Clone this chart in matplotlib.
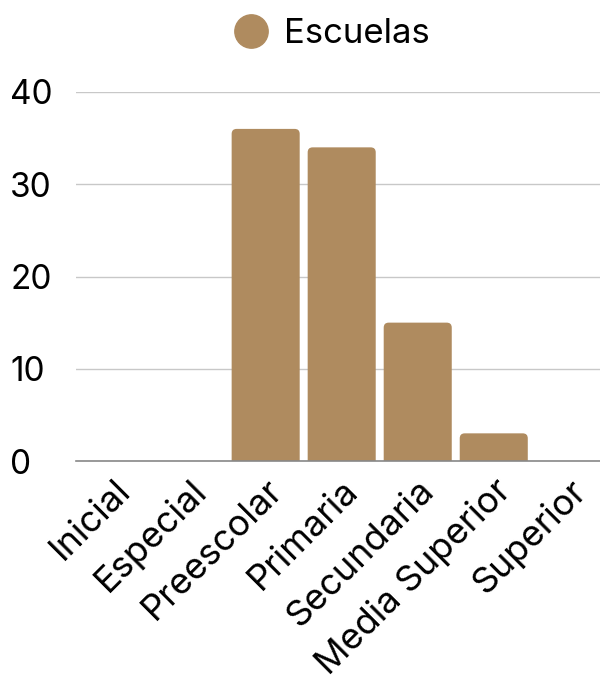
import matplotlib
matplotlib.use("Agg")
import matplotlib.pyplot as plt
from matplotlib.patches import FancyBboxPatch
from matplotlib.lines import Line2D

categories = ["Inicial", "Especial", "Preescolar", "Primaria", "Secundaria", "Media Superior", "Superior"]
escuelas = [0, 0, 36, 34, 15, 3, 0]
yticks = [0, 10, 20, 30, 40]
series_name = "Escuelas"

color = "#AF8B5F"
plt.rcParams['font.family'] = ['Inter', 'DejaVu Sans']

fig = plt.figure(figsize=(6.0, 6.84), dpi=100)
ax = fig.add_axes([0.126, 0.326, 0.887, 0.5395])

x = list(range(len(categories)))
bars = ax.bar(x, escuelas, width=0.895, color=color)
ax.set_xlim(-0.5, len(categories) - 0.5)
ax.set_ylim(0, 40)

# replace with rounded-top bars
r_px = 5
trans = ax.transData
(px0, py0) = trans.transform((0, 0))
(px1, py1) = trans.transform((1, 1))
sx = px1 - px0
sy = py1 - py0
rx = r_px / sx
ry = r_px / sy
for b in bars:
    h = b.get_height()
    if h > 0:
        x0, w = b.get_x(), b.get_width()
        patch = FancyBboxPatch((x0, -ry), w, h + ry,
                               boxstyle=f"round,pad=0,rounding_size={rx}",
                               mutation_aspect=ry / rx, facecolor=color,
                               edgecolor="none", clip_on=True, zorder=2)
        ax.add_patch(patch)
    b.remove()

ax.set_yticks(yticks)
ax.set_yticklabels([str(v) for v in yticks], fontsize=24)
ax.grid(axis="y", color="#c8c8c8", linewidth=1)
ax.set_axisbelow(True)
for s in ["top", "right", "left"]:
    ax.spines[s].set_visible(False)
ax.spines["bottom"].set_color("#888888")
ax.spines["bottom"].set_linewidth(1.2)
ax.set_xticks(x)
ax.set_xticklabels(categories, fontsize=26, rotation=45, ha="right",
                   va="top", rotation_mode="anchor")
for lab in ax.get_yticklabels():
    lab.set_horizontalalignment("left")
ax.tick_params(axis="y", length=0, pad=47)
ax.tick_params(axis="x", length=0, pad=9)

handle = Line2D([], [], marker="o", linestyle="none", markersize=24,
                markerfacecolor=color, markeredgecolor=color)
fig.legend([handle], [series_name], loc="upper center", bbox_to_anchor=(0.547, 1.0),
           frameon=False, fontsize=25, handletextpad=0.26, handlelength=1.4,
           borderaxespad=0.12)

fig.savefig("out.png", dpi=100)
